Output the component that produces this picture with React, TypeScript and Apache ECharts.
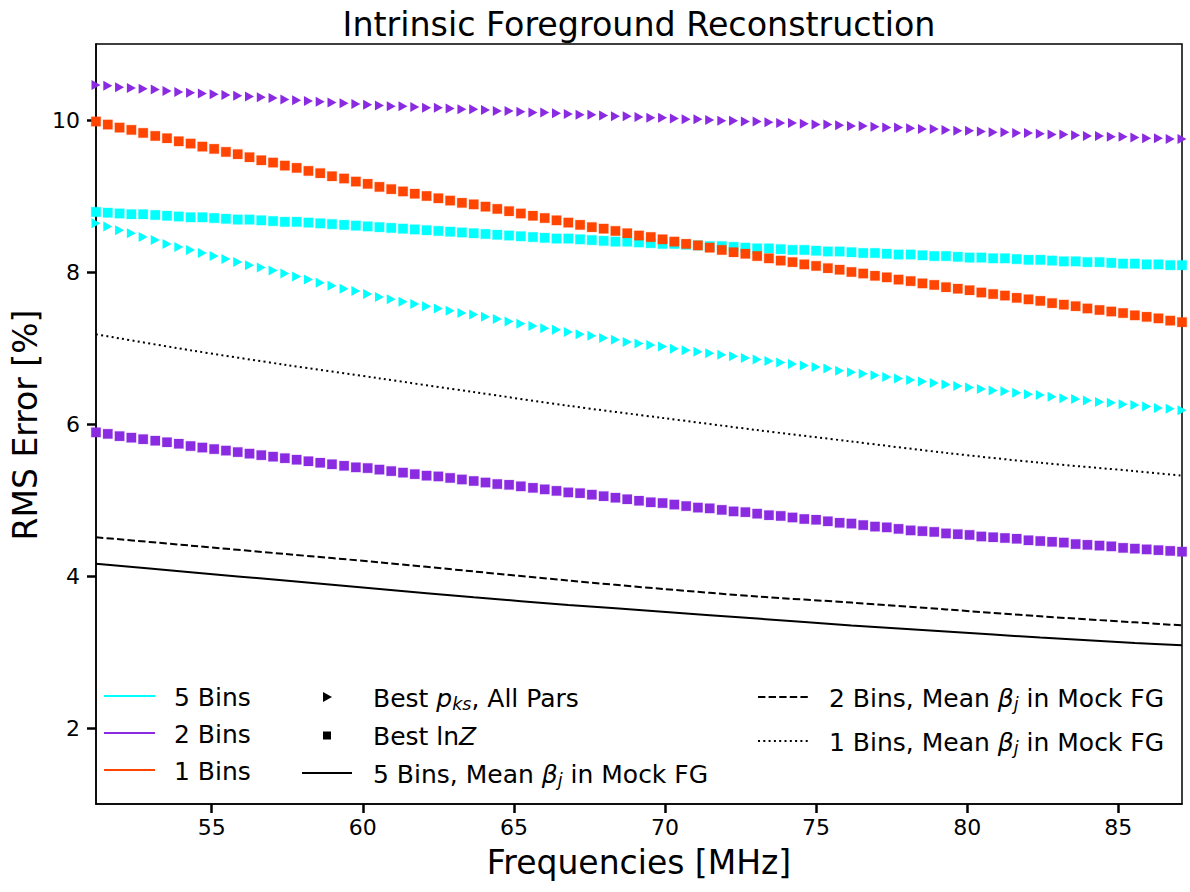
import React, { useEffect, useRef } from "react";
import * as echarts from "echarts";

const FREQ_MHZ = [
  51.17, 51.56, 51.95, 52.34, 52.73, 53.13, 53.52, 53.91, 54.30, 54.69,
  55.08, 55.47, 55.86, 56.25, 56.64, 57.03, 57.42, 57.81, 58.20, 58.59,
  58.98, 59.38, 59.77, 60.16, 60.55, 60.94, 61.33, 61.72, 62.11, 62.50,
  62.89, 63.28, 63.67, 64.06, 64.45, 64.84, 65.23, 65.63, 66.02, 66.41,
  66.80, 67.19, 67.58, 67.97, 68.36, 68.75, 69.14, 69.53, 69.92, 70.31,
  70.70, 71.09, 71.48, 71.88, 72.27, 72.66, 73.05, 73.44, 73.83, 74.22,
  74.61, 75.00, 75.39, 75.78, 76.17, 76.56, 76.95, 77.34, 77.73, 78.13,
  78.52, 78.91, 79.30, 79.69, 80.08, 80.47, 80.86, 81.25, 81.64, 82.03,
  82.42, 82.81, 83.20, 83.59, 83.98, 84.38, 84.77, 85.16, 85.55, 85.94,
  86.33, 86.72, 87.11,
];

// 5 Bins, Best p_ks, All Pars (cyan triangles)
const BINS5_PKS = [
  8.64, 8.60, 8.55, 8.51, 8.46, 8.42, 8.37, 8.33, 8.29, 8.25,
  8.21, 8.17, 8.13, 8.09, 8.06, 8.02, 7.98, 7.94, 7.90, 7.86,
  7.82, 7.78, 7.75, 7.71, 7.67, 7.64, 7.61, 7.58, 7.55, 7.52,
  7.49, 7.46, 7.44, 7.41, 7.38, 7.35, 7.32, 7.29, 7.26, 7.24,
  7.21, 7.18, 7.16, 7.13, 7.11, 7.08, 7.06, 7.04, 7.02, 6.99,
  6.97, 6.95, 6.93, 6.91, 6.89, 6.87, 6.85, 6.83, 6.81, 6.79,
  6.77, 6.75, 6.73, 6.70, 6.68, 6.66, 6.64, 6.62, 6.60, 6.58,
  6.56, 6.54, 6.52, 6.50, 6.48, 6.46, 6.44, 6.43, 6.41, 6.39,
  6.38, 6.36, 6.34, 6.33, 6.31, 6.29, 6.28, 6.26, 6.25, 6.23,
  6.21, 6.20, 6.18,
];

// 5 Bins, Best lnZ (cyan squares)
const BINS5_LNZ = [
  8.79, 8.78, 8.77, 8.76, 8.76, 8.75, 8.74, 8.73, 8.72, 8.72,
  8.71, 8.70, 8.69, 8.69, 8.68, 8.67, 8.66, 8.66, 8.65, 8.64,
  8.63, 8.62, 8.61, 8.60, 8.59, 8.58, 8.57, 8.56, 8.55, 8.54,
  8.53, 8.52, 8.51, 8.50, 8.49, 8.48, 8.47, 8.46, 8.45, 8.44,
  8.44, 8.43, 8.42, 8.41, 8.40, 8.40, 8.39, 8.38, 8.37, 8.37,
  8.36, 8.35, 8.34, 8.34, 8.33, 8.32, 8.31, 8.31, 8.30, 8.29,
  8.29, 8.28, 8.27, 8.27, 8.26, 8.25, 8.25, 8.24, 8.23, 8.23,
  8.22, 8.21, 8.21, 8.20, 8.19, 8.19, 8.18, 8.18, 8.17, 8.16,
  8.16, 8.15, 8.14, 8.14, 8.13, 8.13, 8.12, 8.11, 8.11, 8.10,
  8.10, 8.09, 8.09,
];

// 2 Bins, Best p_ks, All Pars (purple triangles)
const BINS2_PKS = [
  10.46, 10.45, 10.43, 10.42, 10.41, 10.40, 10.38, 10.37, 10.36, 10.35,
  10.34, 10.33, 10.32, 10.31, 10.30, 10.29, 10.27, 10.26, 10.25, 10.24,
  10.23, 10.22, 10.21, 10.20, 10.19, 10.18, 10.18, 10.17, 10.16, 10.16,
  10.15, 10.14, 10.14, 10.13, 10.12, 10.12, 10.11, 10.10, 10.10, 10.09,
  10.08, 10.07, 10.07, 10.06, 10.05, 10.05, 10.04, 10.03, 10.03, 10.02,
  10.01, 10.01, 10.00, 9.99, 9.99, 9.98, 9.98, 9.97, 9.96, 9.96,
  9.95, 9.94, 9.94, 9.93, 9.92, 9.92, 9.91, 9.90, 9.90, 9.89,
  9.88, 9.88, 9.87, 9.86, 9.86, 9.85, 9.84, 9.84, 9.83, 9.83,
  9.82, 9.81, 9.81, 9.80, 9.79, 9.79, 9.78, 9.78, 9.77, 9.76,
  9.76, 9.75, 9.75,
];

// 2 Bins, Best lnZ (purple squares)
const BINS2_LNZ = [
  5.89, 5.87, 5.84, 5.82, 5.80, 5.78, 5.76, 5.74, 5.71, 5.69,
  5.67, 5.65, 5.63, 5.61, 5.59, 5.57, 5.55, 5.53, 5.51, 5.49,
  5.47, 5.45, 5.43, 5.42, 5.40, 5.38, 5.36, 5.34, 5.32, 5.31,
  5.29, 5.27, 5.25, 5.23, 5.21, 5.20, 5.18, 5.16, 5.14, 5.12,
  5.10, 5.09, 5.07, 5.05, 5.03, 5.01, 4.99, 4.97, 4.96, 4.94,
  4.92, 4.90, 4.89, 4.87, 4.85, 4.84, 4.82, 4.80, 4.79, 4.77,
  4.75, 4.74, 4.72, 4.70, 4.69, 4.67, 4.65, 4.64, 4.62, 4.60,
  4.59, 4.58, 4.56, 4.55, 4.54, 4.52, 4.51, 4.50, 4.49, 4.47,
  4.46, 4.45, 4.44, 4.42, 4.41, 4.40, 4.39, 4.37, 4.36, 4.35,
  4.34, 4.33, 4.32,
];

// 1 Bins, Best lnZ (orange squares)
const BINS1_LNZ = [
  9.98, 9.94, 9.90, 9.87, 9.83, 9.79, 9.76, 9.72, 9.69, 9.65,
  9.62, 9.58, 9.55, 9.51, 9.47, 9.44, 9.40, 9.37, 9.33, 9.30,
  9.26, 9.23, 9.19, 9.16, 9.12, 9.09, 9.06, 9.03, 9.00, 8.97,
  8.94, 8.91, 8.89, 8.86, 8.83, 8.80, 8.77, 8.74, 8.71, 8.68,
  8.65, 8.62, 8.59, 8.57, 8.54, 8.51, 8.48, 8.46, 8.43, 8.40,
  8.37, 8.35, 8.32, 8.29, 8.26, 8.24, 8.21, 8.18, 8.15, 8.13,
  8.10, 8.08, 8.05, 8.03, 8.00, 7.98, 7.95, 7.93, 7.90, 7.88,
  7.85, 7.83, 7.80, 7.78, 7.76, 7.73, 7.71, 7.69, 7.66, 7.64,
  7.62, 7.59, 7.57, 7.55, 7.52, 7.50, 7.48, 7.46, 7.43, 7.41,
  7.39, 7.36, 7.34,
];

// Mean beta_j in Mock FG curves
const LINE_FREQ_MHZ = [51.17, 54.30, 57.42, 60.55, 63.67, 66.80, 69.92, 73.05, 76.17, 79.30, 82.42, 85.55, 87.11];
const MEAN5 = [4.16, 4.05, 3.94, 3.83, 3.72, 3.62, 3.53, 3.44, 3.35, 3.27, 3.19, 3.12, 3.09];
const MEAN2 = [4.51, 4.40, 4.29, 4.18, 4.06, 3.94, 3.83, 3.73, 3.65, 3.56, 3.47, 3.39, 3.35];
const MEAN1 = [7.18, 6.97, 6.78, 6.60, 6.42, 6.24, 6.08, 5.92, 5.77, 5.62, 5.49, 5.38, 5.32];

const X_TICKS = [55, 60, 65, 70, 75, 80, 85];
const Y_TICKS = [2, 4, 6, 8, 10];
const Y_MIN = 1;
const Y_MAX = 11;

const CYAN = "#00ffff";
const PURPLE = "#8a2be2";
const ORANGE = "#ff4500";
const FONT = "'DejaVu Sans', 'Liberation Sans', sans-serif";

const pairs = (xs: number[], ys: number[]) => xs.map((x, i) => [x, ys[i]]);

const triSeries = (name: string, ys: number[], color: string) => ({
  name,
  type: "scatter",
  data: pairs(FREQ_MHZ, ys),
  symbol: "triangle",
  symbolRotate: -90,
  symbolSize: [10, 9],
  itemStyle: { color, opacity: 1 },
  silent: true,
});

const sqSeries = (name: string, ys: number[], color: string, halo: string) => ({
  name,
  type: "scatter",
  data: pairs(FREQ_MHZ, ys),
  symbol: "rect",
  symbolSize: 9.5,
  itemStyle: { color, opacity: 1, borderColor: halo, borderWidth: 1.2 },
  silent: true,
});

const lineSeries = (name: string, ys: number[], type: any) => ({
  name,
  type: "line",
  data: pairs(LINE_FREQ_MHZ, ys),
  smooth: 0.3,
  showSymbol: false,
  lineStyle: { color: "#000", width: 2, type },
  silent: true,
});

const LEG = 25;

const txt = (x: number, y: number, text: string, size: number) => ({
  type: "text",
  x,
  y,
  silent: true,
  style: {
    text,
    fill: "#000",
    fontSize: size,
    fontFamily: FONT,
    textAlign: "left",
    align: "left",
    textVerticalAlign: "middle",
    verticalAlign: "middle",
  },
});

const richStyles = {
  n: { fontSize: LEG, fontFamily: FONT, color: "#000", lineHeight: 30, verticalAlign: "middle" },
  i: { fontSize: LEG, fontFamily: FONT, color: "#000", fontStyle: "italic", lineHeight: 30, verticalAlign: "middle" },
  s: { fontSize: 17.5, fontFamily: FONT, color: "#000", fontStyle: "italic", lineHeight: 14, verticalAlign: "bottom" },
};

const richTxt = (x: number, y: number, text: string) => ({
  type: "text",
  x,
  y,
  silent: true,
  style: {
    text,
    rich: richStyles,
    fill: "#000",
    fontSize: LEG,
    fontFamily: FONT,
    textAlign: "left",
    align: "left",
    textVerticalAlign: "middle",
    verticalAlign: "middle",
  },
});

const legendLine = (x1: number, x2: number, y: number, stroke: string, lineDash?: number[]) => ({
  type: "line",
  silent: true,
  shape: { x1, y1: y, x2, y2: y },
  style: { stroke, lineWidth: 2, lineDash: lineDash || null },
});

const centerText = (x: number, y: number, text: string, size: number, rotation = 0) => ({
  type: "text",
  x,
  y,
  rotation,
  silent: true,
  style: {
    text,
    fill: "#000",
    fontSize: size,
    fontFamily: FONT,
    textAlign: "center",
    align: "center",
    textVerticalAlign: "middle",
    verticalAlign: "middle",
  },
});

export default function App() {
  const ref = useRef<HTMLDivElement>(null);

  useEffect(() => {
    if (!ref.current) return;
    const chart = echarts.init(ref.current, undefined, { renderer: "svg" });
    chart.setOption({
      animation: false,
      backgroundColor: "#ffffff",
      grid: {
        left: 96,
        right: 8,
        top: 44,
        bottom: 88,
        show: true,
        borderColor: "#000",
        borderWidth: 1.5,
        backgroundColor: "transparent",
        containLabel: false,
      },
      xAxis: {
        type: "value",
        min: FREQ_MHZ[0],
        max: FREQ_MHZ[FREQ_MHZ.length - 1],
        axisLine: { show: true, onZero: false, lineStyle: { color: "#000", width: 1.5 } },
        axisTick: { show: true, length: 9, lineStyle: { color: "#000", width: 2.5 }, customValues: X_TICKS },
        axisLabel: { customValues: X_TICKS, fontSize: 22, color: "#000", fontFamily: FONT, margin: 12 },
        splitLine: { show: false },
      },
      yAxis: {
        type: "value",
        min: Y_MIN,
        max: Y_MAX,
        axisLine: { show: true, onZero: false, lineStyle: { color: "#000", width: 1.5 } },
        axisTick: { show: true, length: 9, lineStyle: { color: "#000", width: 2.5 }, customValues: Y_TICKS },
        axisLabel: { customValues: Y_TICKS, fontSize: 22, color: "#000", fontFamily: FONT, margin: 16 },
        splitLine: { show: false },
      },
      series: [
        triSeries("5 Bins, Best pks", BINS5_PKS, CYAN),
        sqSeries("5 Bins, Best lnZ", BINS5_LNZ, CYAN, "rgba(0,255,255,0.25)"),
        triSeries("2 Bins, Best pks", BINS2_PKS, PURPLE),
        sqSeries("2 Bins, Best lnZ", BINS2_LNZ, PURPLE, "rgba(138,43,226,0.2)"),
        sqSeries("1 Bins, Best lnZ", BINS1_LNZ, ORANGE, "rgba(255,69,0,0.2)"),
        lineSeries("5 Bins, Mean beta_j in Mock FG", MEAN5, "solid"),
        lineSeries("2 Bins, Mean beta_j in Mock FG", MEAN2, [7.4, 3.2]),
        lineSeries("1 Bins, Mean beta_j in Mock FG", MEAN1, [2, 3.3]),
      ],
      graphic: [
        centerText(639, 24, "Intrinsic Foreground Reconstruction", 33.3),
        centerText(639, 862, "Frequencies [MHz]", 33),
        centerText(25, 425, "RMS Error [%]", 33, Math.PI / 2),
        // legend column 1
        legendLine(104, 155, 696, CYAN),
        legendLine(104, 155, 733, PURPLE),
        legendLine(104, 155, 770, ORANGE),
        txt(174, 697, "5 Bins", LEG),
        txt(174, 734, "2 Bins", LEG),
        txt(174, 771, "1 Bins", LEG),
        // legend column 2
        {
          type: "polygon",
          silent: true,
          shape: { points: [[323, 692], [332, 697], [323, 702]] },
          style: { fill: "#000" },
        },
        {
          type: "rect",
          silent: true,
          shape: { x: 323, y: 731.5, width: 8, height: 8 },
          style: { fill: "#000" },
        },
        legendLine(302, 352, 773, "#000"),
        richTxt(373, 698, "{n|Best }{i|p}{s|ks}{n|, All Pars}"),
        richTxt(373, 736, "{n|Best ln}{i|Z}"),
        richTxt(373, 774, "{n|5 Bins, Mean }{i|β}{s|j}{n| in Mock FG}"),
        // legend column 3
        legendLine(758, 808, 697, "#000", [7.4, 3.2]),
        legendLine(758, 808, 741, "#000", [2, 3.3]),
        richTxt(829, 698, "{n|2 Bins, Mean }{i|β}{s|j}{n| in Mock FG}"),
        richTxt(829, 742, "{n|1 Bins, Mean }{i|β}{s|j}{n| in Mock FG}"),
      ],
    });
    return () => chart.dispose();
  }, []);

  return (
    <div
      ref={ref}
      style={{ position: "absolute", left: 0, top: 0, width: 1190, height: 892, background: "#fff" }}
    />
  );
}
